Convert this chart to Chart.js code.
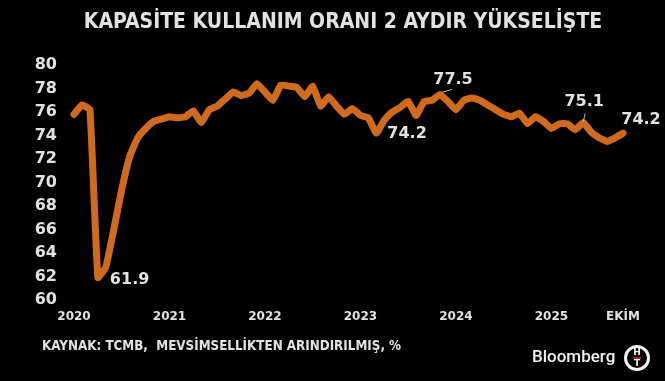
<!DOCTYPE html>
<html lang="tr">
<head>
<meta charset="UTF-8">
<title>Kapasite Kullanım Oranı</title>
<script src="https://cdn.jsdelivr.net/npm/chart.js"></script>
<style>
  body { margin: 0; background: #000; }
  #wrap { width: 665px; height: 381px; }
</style>
</head>
<body>
<div id="wrap"><canvas id="kko" width="665" height="381"></canvas></div>
<script>
// aylar: Ocak 2020 - Ekim 2025
const years = [2020, 2021, 2022, 2023, 2024, 2025];
const monthNames = ['Oca', 'Şub', 'Mar', 'Nis', 'May', 'Haz', 'Tem', 'Ağu', 'Eyl', 'Eki', 'Kas', 'Ara'];
const lastMonth = 'Eki 2025';

const months = [];
for (const y of years) {
    for (const m of monthNames) {
        if (months[months.length - 1] === lastMonth) break;
        months.push(m + ' ' + y);
    }
}

// kapasite kullanım oranı, mevsimsellikten arındırılmış (%)
const kko = [
    75.8, 76.6, 76.2, 61.9, 62.8, 66.0, 69.4, 72.2, 73.8, 74.6, 75.2, 75.4,
    75.6, 75.5, 75.6, 76.1, 75.1, 76.2, 76.5, 77.1, 77.7, 77.4, 77.6, 78.4,
    77.7, 77.0, 78.3, 78.2, 78.1, 77.3, 78.2, 76.5, 77.3, 76.5, 75.8, 76.3,
    75.7, 75.5, 74.2, 75.3, 76.0, 76.4, 76.9, 75.7, 76.9, 77.0, 77.5, 76.9,
    76.2, 77.0, 77.2, 77.0, 76.6, 76.2, 75.8, 75.6, 75.9, 75.0, 75.6, 75.2,
    74.6, 75.0, 75.0, 74.5, 75.1, 74.3, 73.8, 73.5, 73.8, 74.2
];

const yTicks = [60, 80, 2]; // min, max, adım
const endLabel = 'EKİM';

const title = 'KAPASİTE KULLANIM ORANI 2 AYDIR YÜKSELİŞTE';
const source = 'KAYNAK: TCMB,  MEVSİMSELLİKTEN ARINDIRILMIŞ, %';

// işaretlenen noktalar (indeks)
const marked = [3, 38, 46, 64, 69];

const orange = '#d06a1e';
const textColor = '#e2e2e2';

const decor = {
    id: 'decor',
    beforeDraw(chart) {
        const { ctx } = chart;
        ctx.save();
        ctx.fillStyle = '#000';
        ctx.fillRect(0, 0, chart.width, chart.height);
        ctx.restore();
    },
    afterDraw(chart) {
        const { ctx } = chart;
        const pts = chart.getDatasetMeta(0).data;
        ctx.save();

        // başlık
        ctx.fillStyle = textColor;
        ctx.textAlign = 'center';
        ctx.textBaseline = 'middle';
        ctx.font = 'bold 21px "DejaVu Sans Condensed", "DejaVu Sans"';
        ctx.fillText(title, 343, 23);

        // kaynak
        ctx.textAlign = 'left';
        ctx.font = 'bold 13.3px "DejaVu Sans Condensed", "DejaVu Sans"';
        ctx.fillText(source, 42, 347);

        // değer etiketleri
        const offs = {
            3:  { dx: 12, dy: 2,   align: 'left' },
            38: { dx: 11, dy: 1,   align: 'left' },
            46: { dx: 13, dy: -15, align: 'center', lead: [2, -2, 12, -5] },
            64: { dx: 1,  dy: -21, align: 'center', lead: [0, -1, 2, -9] },
            69: { dx: 18, dy: -13, align: 'center' }
        };
        ctx.font = 'bold 16px "DejaVu Sans"';
        for (const i of marked) {
            const p = pts[i];
            const o = offs[i];
            if (o.lead) {
                ctx.strokeStyle = '#bdbdbd';
                ctx.lineWidth = 1;
                ctx.beginPath();
                ctx.moveTo(p.x + o.lead[0], p.y + o.lead[1]);
                ctx.lineTo(p.x + o.lead[2], p.y + o.lead[3]);
                ctx.stroke();
            }
            ctx.fillStyle = textColor;
            ctx.textAlign = o.align;
            ctx.fillText(kko[i].toFixed(1), p.x + o.dx, p.y + o.dy);
        }

        // Bloomberg HT logosu
        ctx.textAlign = 'left';
        ctx.font = '500 17px Roboto';
        ctx.fillStyle = '#f2f2f2';
        ctx.fillText('Bloomberg', 532, 358);
        ctx.strokeStyle = '#f2f2f2';
        ctx.lineWidth = 3;
        ctx.beginPath();
        ctx.arc(637, 358, 11.5, 0, Math.PI * 2);
        ctx.stroke();
        ctx.textAlign = 'center';
        ctx.font = 'bold 9px "DejaVu Sans"';
        ctx.fillText('H', 637, 352.5);
        ctx.fillText('T', 637, 364);
        ctx.strokeStyle = '#d0312d';
        ctx.lineWidth = 1.5;
        ctx.beginPath();
        ctx.moveTo(633, 358);
        ctx.lineTo(641, 358);
        ctx.stroke();

        ctx.restore();
    }
};

const ctx = document.getElementById('kko').getContext('2d');
const chart = new Chart(ctx, {
    type: 'line',
    data: {
        labels: months,
        datasets: [{
            data: kko,
            borderColor: orange,
            borderWidth: 7,
            pointRadius: 0,
            tension: 0.1,
            borderJoinStyle: 'round',
            borderCapStyle: 'round',
            clip: false
        }]
    },
    plugins: [decor],
    options: {
        responsive: false,
        animation: false,
        layout: { padding: { top: 65, right: 42, left: 0, bottom: 0 } },
        plugins: {
            legend: { display: false },
            tooltip: { enabled: false }
        },
        scales: {
            x: {
                offset: false,
                grid: { display: false, drawTicks: false },
                border: { display: false },
                ticks: {
                    autoSkip: false,
                    maxRotation: 0,
                    padding: 10,
                    color: textColor,
                    font: { family: 'DejaVu Sans', weight: 'bold', size: 12 },
                    callback: function (v, i) {
                        if (i === months.length - 1) return endLabel;
                        const lab = months[i];
                        return lab.startsWith(monthNames[0]) ? lab.split(' ')[1] : '';
                    }
                },
                afterFit: s => { s.height = 81; }
            },
            y: {
                min: yTicks[0],
                max: yTicks[1],
                grid: { display: false, drawTicks: false },
                border: { display: false },
                ticks: {
                    stepSize: yTicks[2],
                    padding: 17,
                    color: textColor,
                    font: { family: 'DejaVu Sans', weight: 'bold', size: 16 }
                },
                afterFit: s => { s.width = 74; }
            }
        }
    }
});
</script>
</body>
</html>
